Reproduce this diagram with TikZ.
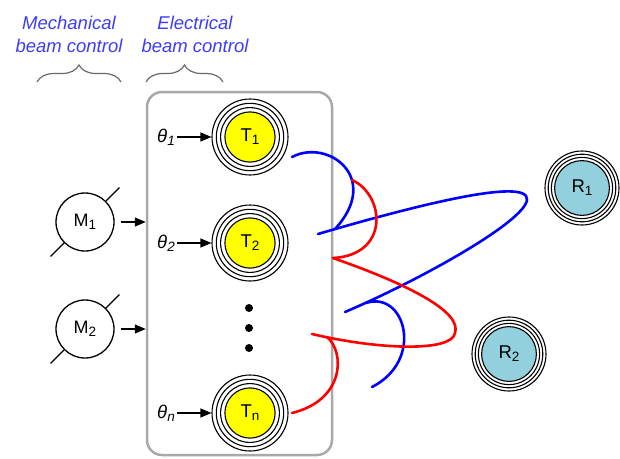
\documentclass[tikz,border=0pt]{standalone}
\usepackage{fontspec}
\setmainfont{Liberation Sans}
\usetikzlibrary{arrows.meta,decorations.pathreplacing}
\definecolor{labelblue}{RGB}{60,60,250}
\definecolor{tyellow}{RGB}{255,255,0}
\definecolor{rblue}{RGB}{146,208,222}
\definecolor{framegray}{RGB}{168,168,168}
\definecolor{bracegray}{RGB}{105,105,105}
\definecolor{beamblue}{RGB}{0,0,255}
\definecolor{beamred}{RGB}{255,0,0}
\newcommand{\lowsub}[1]{\raisebox{-0.3ex}{\fontsize{13.5}{13.5}\selectfont #1}}

\begin{document}
\begin{tikzpicture}[x=1pt,y=-1pt,
  % antenna: outer ring is the node border, inner rings and the filled core come from path picture
  antenna/.style n args={4}{circle, draw, line width=1.1pt, inner sep=0pt, fill=white,
    font=\fontsize{18.5}{18.5}\selectfont,
    path picture={
      \draw[line width=1.1pt] (path picture bounding box.center) circle[radius=#2] circle[radius=#3];
      \filldraw[fill=#1, line width=1.1pt] (path picture bounding box.center) circle[radius=#4];}},
  tant/.style={antenna={tyellow}{33.7pt}{29.4pt}{25.1pt}, minimum size=76pt},
  rant/.style={antenna={rblue}{33.8pt}{30.6pt}{27.4pt}, minimum size=74pt},
  mot/.style={circle, draw, line width=1.3pt, inner sep=0pt, minimum size=58pt,
    font=\fontsize{18}{18}\selectfont},
  slash/.style={line width=1.3pt},
  arr/.style={line width=1.3pt, -{Triangle[length=11pt,width=9pt]}},
  theta/.style={inner sep=2pt, font=\fontsize{18.5}{18.5}\selectfont\itshape},
  lbl/.style={inner sep=0pt, anchor=base, text=labelblue, font=\fontsize{18.5}{18.5}\selectfont\itshape},
  dot/.style={circle, fill=black, inner sep=0pt, minimum size=8pt},
  brc/.style={draw=bracegray, line width=1.2pt, decorate, decoration={brace, amplitude=17pt}},
  beamB/.style={draw=beamblue, line width=2.6pt, line cap=round},
  beamR/.style={draw=beamred, line width=2.6pt, line cap=round}]
\useasboundingbox (0,0) rectangle (620,458);

% headings and braces
\node[lbl] (mech1) at (69,29) {Mechanical};
\node[lbl] (mech2) at (69,52) {beam control};
\node[lbl] (elec1) at (195,29) {Electrical};
\node[lbl] (elec2) at (195,52) {beam control};
\draw[brc] (37,82) -- (121,82);
\draw[brc] (146,82) -- (223,82);

% electrically steered array
\node[draw=framegray, line width=2.5pt, rounded corners=15pt,
      minimum width=185pt, minimum height=363pt] (array) at (239.5,273.5) {};

\node[tant] (T1) at (250,137) {T\lowsub{1}};
\node[tant] (T2) at (250,243) {T\lowsub{2}};
\node[tant] (Tn) at (250,413) {T\lowsub{n}};
\node[dot] (d1) at (249,308) {};
\node[dot] (d2) at (249,328) {};
\node[dot] (d3) at (249,348) {};

\node[theta] (th1) at (166,137) {θ\lowsub{\itshape 1}};
\node[theta] (th2) at (166,243) {θ\lowsub{\itshape 2}};
\node[theta] (thn) at (166,413) {θ\lowsub{\itshape n}};
\draw[arr] (th1) -- (T1);
\draw[arr] (th2) -- (T2);
\draw[arr] (thn) -- (Tn);

% mechanical steering
\node[mot] (M1) at (85,222) {M\lowsub{1}};
\node[mot] (M2) at (85,329) {M\lowsub{2}};
\draw[slash] (M1.north east) -- ++(13.5,-13.5);
\draw[slash] (M1.south west) -- ++(-13.5,13.5);
\draw[slash] (M2.north east) -- ++(13.5,-13.5);
\draw[slash] (M2.south west) -- ++(-13.5,13.5);
\draw[arr, shorten <=6pt] (M1) -- (M1 -| array.west);
\draw[arr, shorten <=6pt] (M2) -- (M2 -| array.west);

% receivers
\node[rant] (R1) at (582,188) {R\lowsub{1}};
\node[rant] (R2) at (509,354) {R\lowsub{2}};

% beams
\draw[beamB] (292,157) .. controls (328,138) and (382,178) .. (335,229);
\draw[beamB] (318,234) .. controls (400,210) and (530,175) .. (527,200)
                       .. controls (524,222) and (420,280) .. (345,312);
\draw[beamB] (366,303) .. controls (405,290) and (425,360) .. (372,387);
\draw[beamR] (352,180) .. controls (385,195) and (390,255) .. (333,258);
\draw[beamR] (333,258) .. controls (410,285) and (462,312) .. (455,333)
                       .. controls (452,352) and (380,350) .. (312,334);
\draw[beamR] (327,337) .. controls (345,352) and (345,400) .. (292,413);
\end{tikzpicture}
\end{document}
